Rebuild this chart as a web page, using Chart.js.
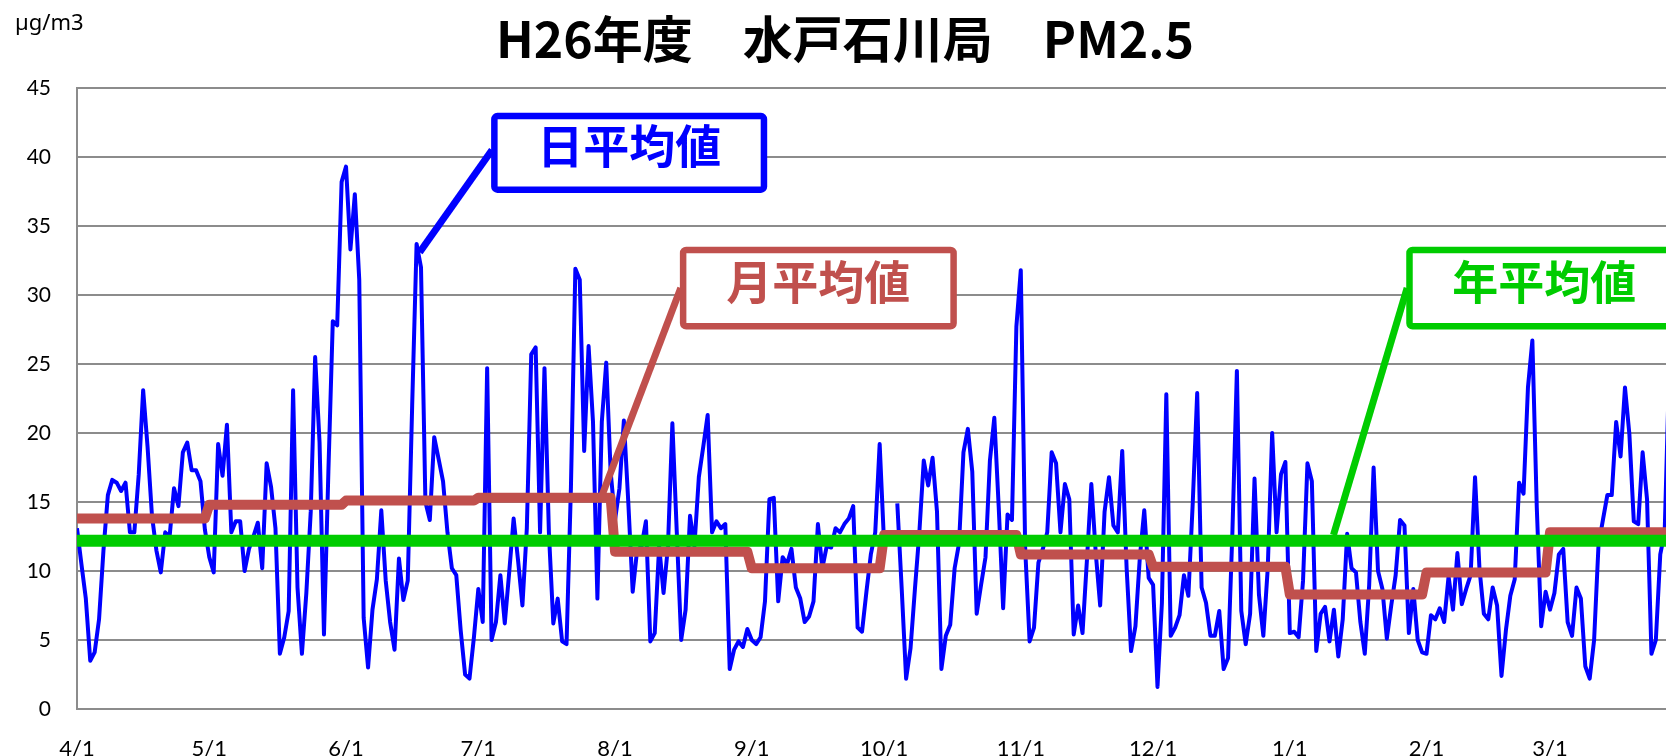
<!DOCTYPE html>
<html>
<head>
<meta charset="utf-8">
<script src="https://cdn.jsdelivr.net/npm/chart.js@4/dist/chart.umd.min.js"></script>
<style>
html, body { margin: 0; padding: 0; background: #fff; }
#wrap { width: 1666px; height: 756px; }
</style>
</head>
<body>
<div id="wrap"><canvas id="chart" width="1666" height="756"></canvas></div>
<script>
var chartTitle = "H26年度　水戸石川局　PM2.5";
var unitLabel = "µg/m3";

// x axis: day index from 4/1, labels at each month start
var monthLabels = ["4/1", "5/1", "6/1", "7/1", "8/1", "9/1", "10/1", "11/1", "12/1", "1/1", "2/1", "3/1"];
var monthStartDays = [0, 30, 61, 91, 122, 153, 183, 214, 244, 275, 306, 334];
var lastDay = 364;

// monthly and yearly averages (µg/m3)
var monthAverage = [13.8, 14.8, 15.1, 15.3, 11.4, 10.2, 12.6, 11.2, 10.3, 8.3, 9.9, 12.8];
var yearAverage = 12.2;

// daily averages, one per day from 4/1 (null = no data)
var dailyValues = [
    13.1, 10.5, 8, 3.5, 4.1, 6.5, 11.5, 15.5, 16.6, 16.4,
    15.8, 16.4, 12.8, 12.8, 17, 23.1, 19, 14, 11.5, 9.9,
    12.8, 12.5, 16, 14.7, 18.6, 19.3, 17.3, 17.3, 16.5, 13,
    11, 9.9, 19.2, 16.9, 20.6, 12.8, 13.6, 13.6, 10, 11.6,
    12.5, 13.5, 10.2, 17.8, 16.1, 13.1, 4.0, 5.2, 7.1, 23.1,
    8.8, 4.0, 8.4, 14.3, 25.5, 19.3, 5.4, 17.2, 28.1, 27.8,
    38.2, 39.3, 33.3, 37.3, 31.1, 6.6, 3.0, 7.2, 9.4, 14.4,
    9.3, 6.3, 4.3, 10.9, 7.9, 9.3, 22, 33.7, 32, 15,
    13.7, 19.7, 18.1, 16.5, 12.8, 10.2, 9.7, 5.7, 2.5, 2.2,
    5.2, 8.7, 6.3, 24.7, 5.0, 6.3, 9.7, 6.2, 9.9, 13.8,
    10.8, 7.5, 13.1, 25.7, 26.2, 12.8, 24.7, 12.8, 6.2, 8.0,
    4.9, 4.7, 16.1, 31.9, 31.1, 18.7, 26.3, 20.8, 8.0, 20.8,
    25.1, 17.2, 13.7, 16, 20.9, 15, 8.5, 11.5, 11.8, 13.6,
    4.9, 5.5, 11.8, 8.4, 11.8, 20.7, 12.8, 5.0, 7.2, 14.0,
    11.8, 16.8, 19.0, 21.3, 12.8, 13.6, 13.1, 13.4, 2.9, 4.3,
    4.9, 4.5, 5.8, 5.0, 4.7, 5.2, 7.8, 15.2, 15.3, 7.8,
    11, 10.5, 11.6, 8.8, 8.0, 6.3, 6.7, 7.8, 13.4, 10.2,
    11.8, 11.7, 13.1, 12.8, 13.4, 13.8, 14.7, 5.9, 5.6, 8.5,
    11.2, 12.8, 19.2, 12, null, null, 14.9, 8.7, 2.2, 4.4,
    8.7, 12.8, 18.0, 16.2, 18.2, 14.3, 2.9, 5.3, 6.1, 10.2,
    12, 18.6, 20.3, 17.2, 6.9, 9.0, 11.0, 18.0, 21.1, 14.6,
    7.3, 14.1, 13.7, 27.7, 31.8, 11.6, 4.9, 5.9, 10.6, 11.6,
    12.8, 18.6, 17.8, 12.8, 16.3, 15.2, 5.4, 7.5, 5.5, 10.8,
    16.3, 11.3, 7.5, 14.3, 16.8, 13.3, 12.8, 18.7, 10.2, 4.2,
    6.0, 11, 14.4, 9.5, 9.0, 1.6, 7.7, 22.8, 5.3, 5.9,
    6.8, 9.7, 8.2, 15, 22.9, 8.8, 7.7, 5.3, 5.3, 7.1,
    2.9, 3.7, 13, 24.5, 7.1, 4.7, 6.9, 16.7, 8.3, 5.3,
    10.2, 20.0, 12.8, 17.0, 17.9, 5.5, 5.6, 5.2, 9.3, 17.8,
    16.5, 4.2, 6.9, 7.4, 4.9, 7.2, 3.8, 6.5, 12.7, 10.2,
    9.9, 6.3, 4.0, 9.0, 17.5, 10.0, 8.7, 5.1, 7.5, 9.7,
    13.7, 13.3, 5.5, 8.7, 5.0, 4.1, 4.0, 6.8, 6.5, 7.3,
    6.3, 9.6, 7.2, 11.3, 7.6, 8.7, 9.7, 16.8, 10.2, 6.9,
    6.5, 8.8, 7.5, 2.4, 5.7, 8.2, 9.4, 16.4, 15.6, 23.3,
    26.7, 14.6, 6.0, 8.5, 7.2, 8.4, 11.2, 11.6, 6.3, 5.3,
    8.8, 8.0, 3.1, 2.2, 5.0, 11.9, 13.7, 15.5, 15.5, 20.8,
    18.3, 23.3, 19.9, 13.6, 13.4, 18.6, 15.2, 4.0, 5.0, 11.2,
    12.8, 24.5
];

// callout boxes, in axis units: [day left, value top, day right, value bottom]
var callouts = [
    { text: "日平均値", color: "#0000ff", box: [93.9, 43.2, 156.5, 37.4], from: [77.7, 33.1], to: [94.1, 40.5] },
    { text: "月平均値", color: "#c0504d", box: [136.7, 33.5, 199.5, 27.5], from: [118.7, 15.2], to: [136.9, 30.5] },
    { text: "年平均値", color: "#00cc00", box: [301.4, 33.5, 364.0, 27.5], from: [284.9, 12.6], to: [301.6, 30.5] }
];

var dailyPoints = dailyValues.map(function (v, i) {
    return { x: i, y: v };
});

var monthPoints = [];
monthAverage.forEach(function (a, m) {
    var start = monthStartDays[m];
    var end = m + 1 < monthStartDays.length ? monthStartDays[m + 1] - 1 : lastDay;
    monthPoints.push({ x: start, y: a });
    monthPoints.push({ x: end, y: a });
});

var yearPoints = [{ x: 0, y: yearAverage }, { x: lastDay, y: yearAverage }];

var textPlugin = {
    id: 'textPlugin',
    afterDraw: function (chart) {
        var ctx = chart.ctx;
        ctx.save();
        ctx.fillStyle = '#000';
        ctx.font = 'bold 50px "Noto Sans CJK JP"';
        ctx.textAlign = 'center';
        ctx.textBaseline = 'middle';
        ctx.fillText(chartTitle, 845, 39);
        ctx.font = '22px "Noto Sans"';
        ctx.textAlign = 'left';
        ctx.textBaseline = 'alphabetic';
        ctx.fillText(unitLabel, 15, 30);
        ctx.restore();
    }
};

var calloutPlugin = {
    id: 'calloutPlugin',
    afterDatasetsDraw: function (chart) {
        var ctx = chart.ctx;
        var xs = chart.scales.x;
        var ys = chart.scales.y;
        callouts.forEach(function (c) {
            var x1 = xs.getPixelForValue(c.box[0]);
            var y1 = ys.getPixelForValue(c.box[1]);
            var x2 = xs.getPixelForValue(c.box[2]);
            var y2 = ys.getPixelForValue(c.box[3]);
            var bw = 6.5;
            ctx.save();
            ctx.strokeStyle = c.color;
            ctx.lineWidth = 7;
            ctx.beginPath();
            ctx.moveTo(xs.getPixelForValue(c.from[0]), ys.getPixelForValue(c.from[1]));
            ctx.lineTo(xs.getPixelForValue(c.to[0]), ys.getPixelForValue(c.to[1]));
            ctx.stroke();

            ctx.lineWidth = bw;
            ctx.fillStyle = '#fff';
            ctx.beginPath();
            ctx.roundRect(x1 + bw / 2, y1 + bw / 2, x2 - x1 - bw, y2 - y1 - bw, 3);
            ctx.fill();
            ctx.stroke();

            ctx.fillStyle = c.color;
            ctx.font = 'bold 46px "Noto Sans CJK JP"';
            ctx.textAlign = 'center';
            ctx.textBaseline = 'middle';
            ctx.fillText(c.text, (x1 + x2) / 2, (y1 + y2) / 2 - 7);
            ctx.restore();
        });
    }
};

new Chart(document.getElementById('chart'), {
    type: 'line',
    data: {
        datasets: [{
            label: '年平均値',
            data: yearPoints,
            borderColor: '#00cc00',
            borderWidth: 12,
            borderCapStyle: 'butt',
            order: 1
        }, {
            label: '月平均値',
            data: monthPoints,
            borderColor: '#c0504d',
            borderWidth: 10,
            borderJoinStyle: 'round',
            order: 2
        }, {
            label: '日平均値',
            data: dailyPoints,
            borderColor: '#0000ff',
            borderWidth: 4,
            borderJoinStyle: 'round',
            order: 3
        }]
    },
    options: {
        responsive: false,
        animation: false,
        events: [],
        layout: {
            padding: { top: 88, left: 0, right: 0, bottom: 0 }
        },
        elements: {
            point: { radius: 0 },
            line: { tension: 0, fill: false, borderCapStyle: 'butt' }
        },
        plugins: {
            legend: { display: false },
            tooltip: { enabled: false }
        },
        scales: {
            x: {
                type: 'linear',
                min: 0,
                max: 360.3,
                grid: { display: false, drawTicks: false },
                border: { color: '#8c8c8c', width: 2 },
                ticks: {
                    autoSkip: false,
                    maxRotation: 0,
                    padding: 27,
                    color: '#000',
                    font: { family: 'Lato', size: 22 },
                    callback: function (value) {
                        var i = monthStartDays.indexOf(value);
                        return i < 0 ? '' : monthLabels[i];
                    }
                },
                afterBuildTicks: function (scale) {
                    scale.ticks = monthStartDays.map(function (d) {
                        return { value: d };
                    });
                },
                afterFit: function (scale) {
                    scale.height = 47;
                }
            },
            y: {
                min: 0,
                max: 45,
                ticks: {
                    stepSize: 5,
                    padding: 26,
                    color: '#000',
                    font: { family: 'Lato', size: 21 }
                },
                grid: { color: '#8c8c8c', lineWidth: 2, drawTicks: false },
                border: { color: '#8c8c8c', width: 2 },
                afterFit: function (scale) {
                    scale.width = 77;
                }
            }
        }
    },
    plugins: [textPlugin, calloutPlugin]
});
</script>
</body>
</html>
